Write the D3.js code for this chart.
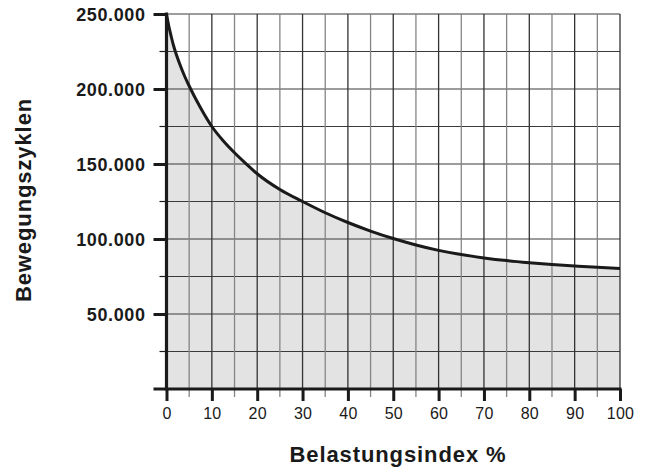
<!DOCTYPE html>
<html><head><meta charset="utf-8">
<script src="https://cdn.jsdelivr.net/npm/d3@7"></script>
<style>
html,body{margin:0;padding:0;background:#fff;}
svg{display:block;font-family:"Liberation Sans",Arial,Helvetica,sans-serif;}
</style></head>
<body><svg id="c" width="648" height="468"></svg>
<script>
// Data
const loadIndex = [0, 0.5, 1, 1.5, 2, 3, 4, 5, 7.5, 10, 12.5, 15, 17.5, 20, 25, 30, 35, 40, 45, 50, 55, 60, 65, 70, 75, 80, 85, 90, 95, 100];
const cycles = [250000, 242000, 235500, 229500, 224500, 216000, 208500, 202000, 187500, 175000, 165500, 157500, 150300, 143500, 133000, 125000, 117500, 111000, 105300, 100300, 96000, 92400, 89600, 87400, 85600, 84200, 83000, 82000, 81100, 80400];
const xTickValues = [0, 10, 20, 30, 40, 50, 60, 70, 80, 90, 100];
const xGridValues = [5, 15, 25, 35, 45, 55, 65, 75, 85, 95];
const yTickValues = [50000, 100000, 150000, 200000, 250000];
const yTickLabels = ["50.000", "100.000", "150.000", "200.000", "250.000"];
const yMinorValues = [25000, 75000, 125000, 175000, 225000];
const xTitle = "Belastungsindex %";
const yTitle = "Bewegungszyklen";

const svg = d3.select("#c");
const x = d3.scaleLinear().domain([0, 100]).range([166.5, 620]);
const y = d3.scaleLinear().domain([0, 250000]).range([389, 14]);
const pts = loadIndex.map((v, i) => [v, cycles[i]]);

// fill area
svg.append("path")
  .attr("d", d3.area().x(d => x(d[0])).y0(y(0)).y1(d => y(d[1])).curve(d3.curveMonotoneX)(pts))
  .attr("fill", "#e3e3e3");

// horizontal grid
const hg = yTickValues.concat(yMinorValues);
svg.append("g").selectAll("line").data(hg).join("line")
  .attr("x1", x(0)).attr("x2", x(100))
  .attr("y1", d => y(d)).attr("y2", d => y(d))
  .attr("stroke", "#3a3a3a").attr("stroke-width", 1.2);

// vertical grid (minor, grey, extend below axis)
svg.append("g").selectAll("line").data(xGridValues).join("line")
  .attr("x1", d => x(d)).attr("x2", d => x(d))
  .attr("y1", y(250000)).attr("y2", y(0) + 8)
  .attr("stroke", "#858585").attr("stroke-width", 1.3);
// vertical grid (major)
svg.append("g").selectAll("line").data(xTickValues.filter(d => d > 0)).join("line")
  .attr("x1", d => x(d)).attr("x2", d => x(d))
  .attr("y1", y(250000)).attr("y2", y(0))
  .attr("stroke", "#333").attr("stroke-width", 1.3);

// curve
svg.append("path")
  .attr("d", d3.line().x(d => x(d[0])).y(d => y(d[1])).curve(d3.curveMonotoneX)(pts))
  .attr("fill", "none").attr("stroke", "#1a1a1a").attr("stroke-width", 3);

// y axis
const yAxis = d3.axisLeft(y).tickValues(yTickValues).tickFormat((d, i) => yTickLabels[i]).tickSize(13).tickPadding(8);
const gy = svg.append("g").attr("transform", `translate(${x(0)},0)`).call(yAxis);
gy.select(".domain").remove();
gy.selectAll(".tick line").attr("stroke", "#1a1a1a").attr("stroke-width", 3);
gy.selectAll(".tick text").attr("font-size", 18).attr("font-weight", "bold").attr("fill", "#1a1a1a")
  .attr("letter-spacing", 0.6).attr("dy", "0.34em").attr("x", -21);
// minor y ticks
svg.append("g").selectAll("line").data(yMinorValues).join("line")
  .attr("x1", x(0) - 7).attr("x2", x(0))
  .attr("y1", d => y(d)).attr("y2", d => y(d))
  .attr("stroke", "#1a1a1a").attr("stroke-width", 1.2);
svg.append("line").attr("x1", x(0)).attr("x2", x(0)).attr("y1", y(250000) - 1.5).attr("y2", y(0) + 1.5)
  .attr("stroke", "#1a1a1a").attr("stroke-width", 3.2);

// x axis
const xAxis = d3.axisBottom(x).tickValues(xTickValues).tickFormat(d3.format("d")).tickSize(12).tickPadding(7);
const gx = svg.append("g").attr("transform", `translate(0,${y(0)})`).call(xAxis);
gx.select(".domain").remove();
gx.selectAll(".tick line").attr("stroke", "#1a1a1a").attr("stroke-width", 3);
gx.selectAll(".tick text").attr("font-size", 16).attr("fill", "#1a1a1a").attr("letter-spacing", 0.2);
svg.append("line").attr("x1", x(0) - 13).attr("x2", x(100) + 1.5).attr("y1", y(0)).attr("y2", y(0))
  .attr("stroke", "#1a1a1a").attr("stroke-width", 3.2);

// titles
svg.append("text").attr("x", 398).attr("y", 462).attr("text-anchor", "middle")
  .attr("font-size", 22).attr("font-weight", "bold").attr("letter-spacing", 0.9).attr("fill", "#1a1a1a").text(xTitle);
svg.append("text").attr("transform", "translate(31,200) rotate(-90)").attr("text-anchor", "middle")
  .attr("font-size", 22).attr("font-weight", "bold").attr("letter-spacing", 0.9).attr("fill", "#1a1a1a").text(yTitle);
</script>
</body></html>
